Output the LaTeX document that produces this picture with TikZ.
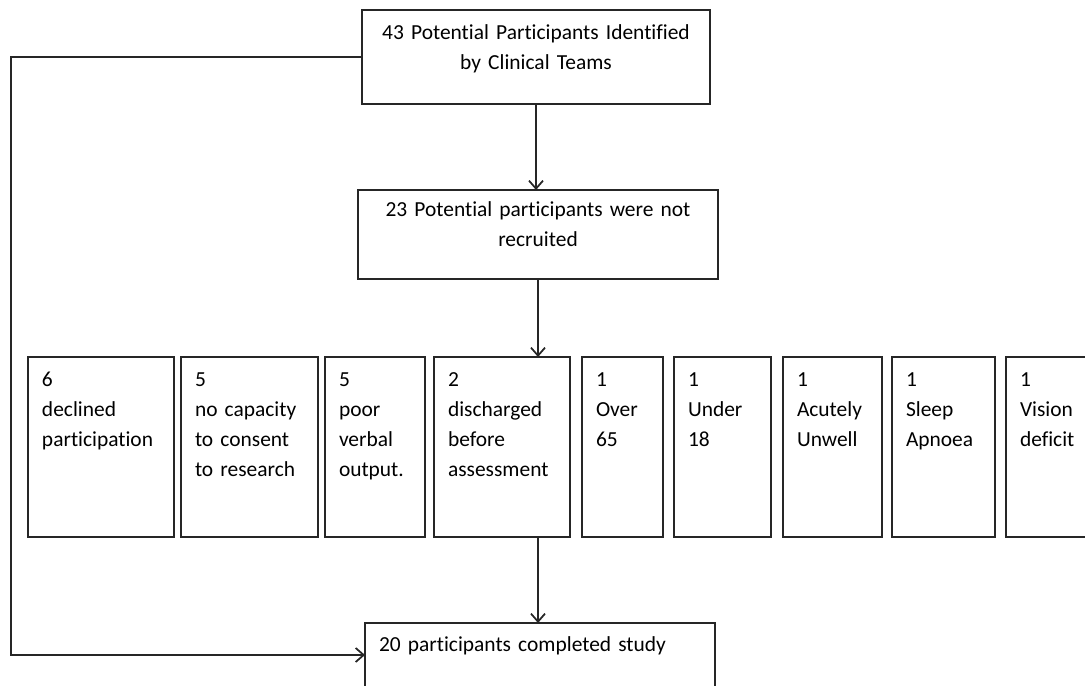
\documentclass[tikz,border=0pt]{standalone}
\usepackage{fontspec}
\setmainfont{Carlito}[Ligatures=NoCommon]
\usepackage{tikz}
\usetikzlibrary{arrows.meta,positioning}

\begin{document}
\begin{tikzpicture}[node distance=2mm,
  every node/.style={font=\fontsize{12.2}{17}\selectfont},
  box/.style={draw=black!85,line width=1pt,outer sep=0pt,inner xsep=2.8mm,inner ysep=3.2mm,text height=0.27cm},
  rowbox/.style={box,align=left,text depth=2.69cm},
  arr/.style={-{Straight Barb[length=1.6mm,width=2.8mm]},line width=1pt,black!85}]
\clip (0,0) rectangle (21.7,-13.72);
\node[box,align=center,text width=6.4cm,text depth=0.97cm] (ident) at (10.72,-1.14) {43 Potential Participants Identified\\by Clinical Teams};
\node[box,align=center,text width=6.64cm,inner ysep=2.6mm,text depth=0.99cm] (notrec) at (10.76,-4.69) {23 Potential participants were not\\recruited};
% reasons for not being recruited
\node[rowbox,text width=2.36cm,anchor=north west] (declined) at (0.56,-7.14) {6\\declined\\participation};
\node[rowbox,text width=2.18cm,right=1.4mm of declined] (capacity) {5\\no capacity\\to consent\\to research};
\node[rowbox,text width=1.44cm,right=1.4mm of capacity] (verbal) {5\\poor\\verbal\\output.};
\node[rowbox,text width=2.16cm,right=1.8mm of verbal] (discharged) {2\\discharged\\before\\assessment};
\node[rowbox,text width=1.06cm,right=2.4mm of discharged] (over) {1\\Over\\65};
\node[rowbox,text width=1.38cm,right=2.2mm of over] (under) {1\\Under\\18};
\node[rowbox,text width=1.42cm,right=2.4mm of under] (unwell) {1\\Acutely\\Unwell};
\node[rowbox,text width=1.5cm,right=2mm of unwell] (apnoea) {1\\Sleep\\Apnoea};
\node[rowbox,text width=1.44cm,right=2.2mm of apnoea] (vision) {1\\Vision\\deficit};
\node[box,align=left,text width=6.44cm,inner ysep=3mm,text depth=0.89cm] (completed) at (10.8,-13.34) {20 participants completed study};
\coordinate (loop) at (0.22,-13.1);
\draw[arr] (ident.south) -- (ident.south |- notrec.north);
\draw[arr] (notrec.south) -- (notrec.south |- discharged.north);
\draw[arr] (notrec.south |- discharged.south) -- (notrec.south |- completed.north);
\draw[arr] (ident.west) -| (loop) -- (loop -| completed.west);
\end{tikzpicture}
\end{document}
